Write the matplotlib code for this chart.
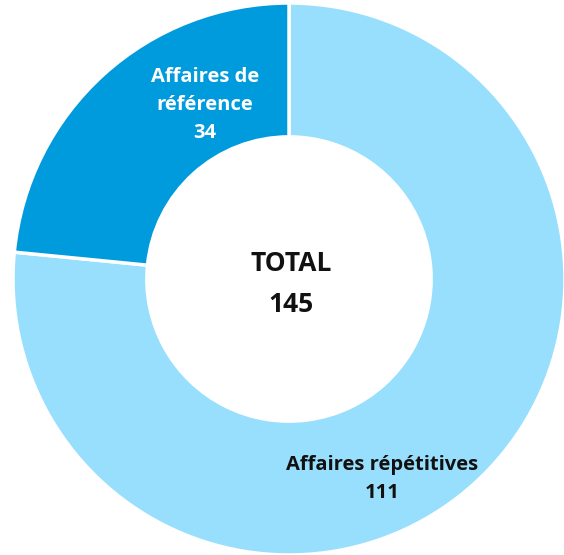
import matplotlib
matplotlib.use('Agg')
import matplotlib.pyplot as plt

labels = ['Affaires répétitives', 'Affaires de\nréférence']
values = [111, 34]
colors = ['#98DFFD', '#009BDC']
total_label = 'TOTAL'

plt.rcParams['font.family'] = ['Open Sans', 'DejaVu Sans']

W, H = 564, 555
fig = plt.figure(figsize=(W / 100, H / 100), dpi=100)
ax = fig.add_axes([0, 0, 1, 1])


def px(x, y):
    # pixel coords (origin top-left) -> data coords
    return x, H - y


cx, cy = px(289, 279)
r = 276
ax.pie(values, colors=colors, startangle=90, counterclock=False,
       radius=r, center=(cx, cy),
       wedgeprops=dict(width=r * 0.485, edgecolor='white', linewidth=2.5))
ax.set_xlim(0, W)
ax.set_ylim(0, H)
ax.set_aspect('equal')
ax.axis('off')

ax.text(*px(382, 479), f'{labels[0]}\n{values[0]}', ha='center', va='center',
        fontsize=14.5, fontweight='bold', color='#111111', linespacing=1.5)
ax.text(*px(205, 105), f'{labels[1]}\n{values[1]}', ha='center', va='center',
        fontsize=14.5, fontweight='bold', color='white', linespacing=1.5)
ax.text(*px(291, 284), f'{total_label}\n{sum(values)}', ha='center', va='center',
        fontsize=19, fontweight='bold', color='#111111', linespacing=1.7)

fig.savefig('out.png', dpi=100)
